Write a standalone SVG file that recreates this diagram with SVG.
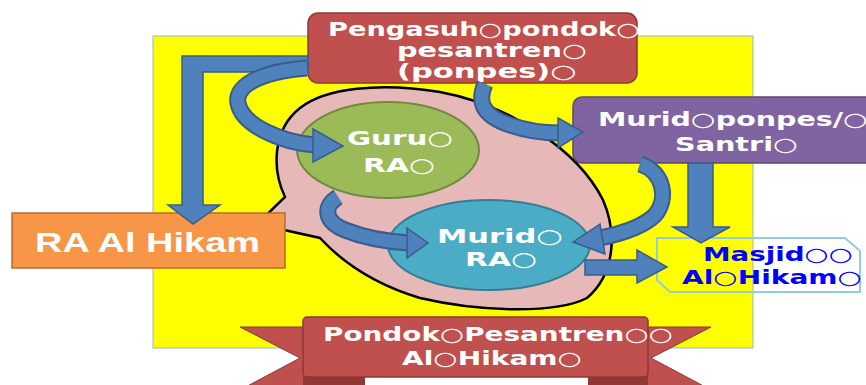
<svg xmlns="http://www.w3.org/2000/svg" width="866" height="385" viewBox="0 0 866 385">
<style>
.t{font-family:"DejaVu Sans","Noto Sans",sans-serif;font-weight:bold;}
.c{font-weight:normal;}
.w{fill:#FFFFFF;}
.band{fill:none;stroke:#385D8A;stroke-width:17;}
.bandin{fill:none;stroke:#4F81BD;stroke-width:13;}
.head{fill:#4F81BD;stroke:#385D8A;stroke-width:1.5;stroke-linejoin:miter;}
</style>
<rect x="0" y="0" width="866" height="385" fill="#FFFFFF"/>
<rect x="153" y="36" width="600" height="312" fill="#FFFF00" stroke="#95B3D7" stroke-width="1"/>
<g id="bubble">
<path d="M285,197 C272,170 272,130 300,108 C325,88 380,82 440,92 C510,105 578,150 603,200 C618,235 614,275 587,298 C556,314 480,312 420,298 C380,286 345,265 320,238 L257,224 Z" fill="#E6B9B8" stroke="#000000" stroke-width="2.5" stroke-linejoin="miter"/>
</g>
<g id="pengasuh">
<rect x="308" y="13" width="329" height="70" rx="10" fill="#C0504D" stroke="#8C3836" stroke-width="1.5"/>
<text class="t w" font-size="19" x="328" y="36" textLength="312" lengthAdjust="spacingAndGlyphs">Pengasuh<tspan class="c">○</tspan>pondok<tspan class="c">○</tspan></text>
<text class="t w" font-size="19" x="397" y="57" textLength="190" lengthAdjust="spacingAndGlyphs">pesantren<tspan class="c">○</tspan></text>
<text class="t w" font-size="19" x="397" y="78" textLength="180" lengthAdjust="spacingAndGlyphs">(ponpes)<tspan class="c">○</tspan></text>
</g>
<g id="murid-ponpes">
<rect x="573" y="97" width="310" height="66" rx="9" fill="#8064A2" stroke="#5C4776" stroke-width="1.5"/>
<text class="t w" font-size="19" x="598" y="126" textLength="270" lengthAdjust="spacingAndGlyphs">Murid<tspan class="c">○</tspan>ponpes/<tspan class="c">○</tspan></text>
<text class="t w" font-size="19" x="675" y="151" textLength="123" lengthAdjust="spacingAndGlyphs">Santri<tspan class="c">○</tspan></text>
</g>
<g id="masjid">
<path d="M657,238 L845,238 L860,251 L860,292 L670,292 L657,280 Z" fill="none" stroke="#93CDDD" stroke-width="2"/>
<text class="t" fill="#0000FF" font-size="19" x="703" y="261" textLength="150" lengthAdjust="spacingAndGlyphs">Masjid<tspan class="c">○○</tspan></text>
<text class="t" fill="#0000FF" font-size="19" x="682" y="284" textLength="180" lengthAdjust="spacingAndGlyphs">Al<tspan class="c">○</tspan>Hikam<tspan class="c">○</tspan></text>
</g>
<g id="ra-al-hikam">
<rect x="12" y="213" width="273" height="55" fill="#F79646" stroke="#B66D31" stroke-width="1.5"/>
<text x="35" y="252" font-family="'Liberation Sans',Arial,sans-serif" font-weight="bold" font-size="28" fill="#FFFFFF" textLength="225" lengthAdjust="spacingAndGlyphs">RA Al Hikam</text>
</g>
<g id="guru-ra">
<ellipse cx="388" cy="150" rx="91" ry="48" fill="#9BBB59" stroke="#71893F" stroke-width="2"/>
<text class="t w" font-size="20" x="347" y="145" textLength="106" lengthAdjust="spacingAndGlyphs">Guru<tspan class="c">○</tspan></text>
<text class="t w" font-size="20" x="363" y="172" textLength="72" lengthAdjust="spacingAndGlyphs">RA<tspan class="c">○</tspan></text>
</g>
<g id="murid-ra">
<ellipse cx="489" cy="245" rx="101" ry="45" fill="#4BACC6" stroke="#357D91" stroke-width="2"/>
<text class="t w" font-size="20" x="437" y="243" textLength="126" lengthAdjust="spacingAndGlyphs">Murid<tspan class="c">○</tspan></text>
<text class="t w" font-size="20" x="465" y="266" textLength="72" lengthAdjust="spacingAndGlyphs">RA<tspan class="c">○</tspan></text>
</g>
<g id="pondok-pesantren">
<path d="M240,327 L320,327 L320,392 L240,390 L300,358 Z" fill="#C0504D" stroke="#8C3836" stroke-width="1"/>
<path d="M711,327 L631,327 L631,392 L711,390 L651,358 Z" fill="#C0504D" stroke="#8C3836" stroke-width="1"/>
<rect x="303" y="368" width="62" height="24" fill="#943634"/>
<rect x="588" y="368" width="60" height="24" fill="#943634"/>
<rect x="303" y="317" width="345" height="60" rx="4" fill="#C0504D" stroke="#8C3836" stroke-width="1.5"/>
<text class="t w" font-size="19" x="323" y="341" textLength="350" lengthAdjust="spacingAndGlyphs">Pondok<tspan class="c">○</tspan>Pesantren<tspan class="c">○○</tspan></text>
<text class="t w" font-size="19" x="402" y="365" textLength="180" lengthAdjust="spacingAndGlyphs">Al<tspan class="c">○</tspan>Hikam<tspan class="c">○</tspan></text>
</g>
<g id="connectors">
<path class="head" d="M308,56 L182,56 L182,205 L168,205 L193,224 L220,205 L203,205 L203,72 L308,72 Z"/>
<path class="band" d="M307,68 C255,72 235,88 238,103 C242,125 280,142 315,145"/>
<path class="bandin" d="M307,68 C255,72 235,88 238,103 C242,125 280,142 315,145"/>
<polygon class="head" points="313,129 343,146 313,162"/>
<path class="band" d="M485,84 C478,100 480,115 510,125 C530,132 545,133 560,133"/>
<path class="bandin" d="M485,84 C478,100 480,115 510,125 C530,132 545,133 560,133"/>
<polygon class="head" points="558,118 583,132 558,148"/>
<path class="band" d="M338,197 C322,207 325,222 345,230 C365,238 390,242 410,243"/>
<path class="bandin" d="M338,197 C322,207 325,222 345,230 C365,238 390,242 410,243"/>
<polygon class="head" points="407,228 428,243 407,258"/>
<path class="band" d="M640,164 C665,172 668,200 655,215 C642,228 620,234 600,238"/>
<path class="bandin" d="M640,164 C665,172 668,200 655,215 C642,228 620,234 600,238"/>
<polygon class="head" points="600,224 573,242 605,254"/>
<polygon class="head" points="688,163 713,163 713,227 730,227 701,243 673,227 688,227"/>
<polygon class="head" points="585,260 637,260 637,250 667,267 637,283 637,275 585,275"/>
</g>
</svg>
